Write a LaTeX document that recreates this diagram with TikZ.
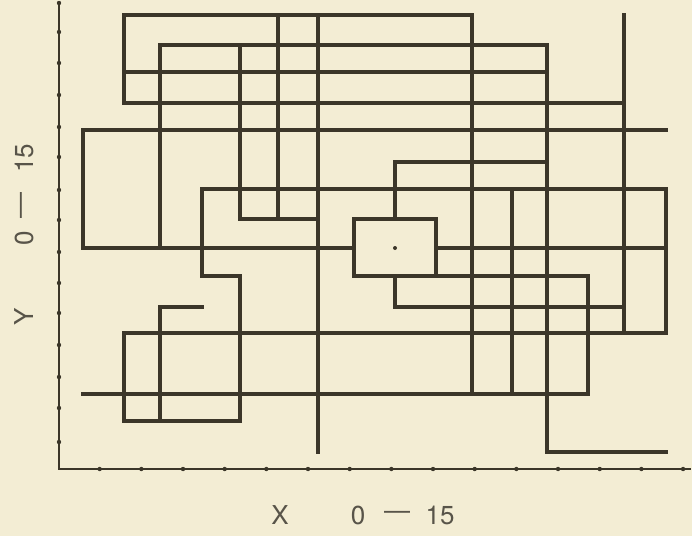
\documentclass[tikz,border=0pt]{standalone}
\usepackage{fontspec}
\setmainfont{TeX Gyre Heros}
\definecolor{bg}{HTML}{F3EDD4}
\definecolor{ink}{HTML}{3B3629}
\begin{document}
\begin{tikzpicture}[x=1pt,y=-1pt,
  walk/.style={draw=ink, line width=3.2pt, line join=miter, line cap=rect},
  axisline/.style={draw=ink, line width=1.6pt, line cap=rect},
  tickdot/.style={fill=ink, circle, inner sep=0pt, minimum size=4.4pt},
  lbl/.style={text=ink!85, font=\fontsize{26}{30}\selectfont, inner sep=0pt}]
\fill[bg] (0,0) rectangle (692,536);
\useasboundingbox (0,0) rectangle (692,536);
% grid points
\foreach \xx [count=\c from 0] in {83,124,160,202,240,278,318,354,395,436,472,512,547,588,624,666}{%
  \foreach \yy [count=\r from 0] in {15,45,72,103,130,162,189,219,248,276,307,333,363,394,421,452}{%
    \coordinate (p\c-\r) at (\xx,\yy);}}
% axes
\coordinate (o) at (59,469);
\coordinate (ytop) at (59,2);
\coordinate (xend) at (690,469);
\draw[axisline] (ytop) -- (o) -- (xend);
\foreach \k in {1,...,15}{
  \node[tickdot] (xt\k) at ({58+41.67*\k},469) {};
}
\foreach \yy [count=\k] in {442,408,377,345,313,283,252,220,190,157,127,95,63,32,3}{
  \node[tickdot] (yt\k) at (59,\yy) {};
}
% walk
\draw[walk] (p3-10) -- (p2-10) -- (p2-14);
\draw[walk] (p15-11) -- (p1-11) -- (p1-14) -- (p4-14) -- (p4-9) -- (p3-9) -- (p3-6) -- (p15-6) -- (p15-11);
\draw[walk] (p0-13) -- (p13-13) -- (p13-9) -- (p7-9) -- (p7-7) -- (p9-7) -- (p9-9);
\draw[walk] (p7-8) -- (p0-8) -- (p0-4) -- (p15-4);
\draw[walk] (p8-9) -- (p8-10) -- (p14-10);
\draw[walk] (p8-7) -- (p8-5) -- (p12-5);
\draw[walk] (p9-8) -- (p15-8);
\draw[walk] (p14-0) -- (p14-11);
\draw[walk] (p11-6) -- (p11-13);
\draw[walk] (p10-13) -- (p10-0) -- (p1-0) -- (p1-3) -- (p14-3);
\draw[walk] (p1-2) -- (p12-2);
\draw[walk] (p2-8) -- (p2-1) -- (p12-1) -- (p12-15) -- (p15-15);
\draw[walk] (p5-0) -- (p5-7);
\draw[walk] (p6-0) -- (p6-15);
\draw[walk] (p4-1) -- (p4-7) -- (p6-7);
\node[fill=ink, circle, inner sep=0pt, minimum size=4pt] (start) at (p8-8) {};
% labels
\node[lbl] (xl) at (280,515) {X};
\node[lbl] (x0) at (358,515) {0};
\node[lbl] (xd) at (397,515) {—};
\node[lbl] (x15) at (440,515) {15};
\node[lbl, rotate=90] (yl) at (24,317) {Y};
\node[lbl, rotate=90] (y0) at (24,238) {0};
\node[lbl, rotate=90] (yd) at (24,205) {—};
\node[lbl, rotate=90] (y15) at (24,158) {15};
\end{tikzpicture}
\end{document}
